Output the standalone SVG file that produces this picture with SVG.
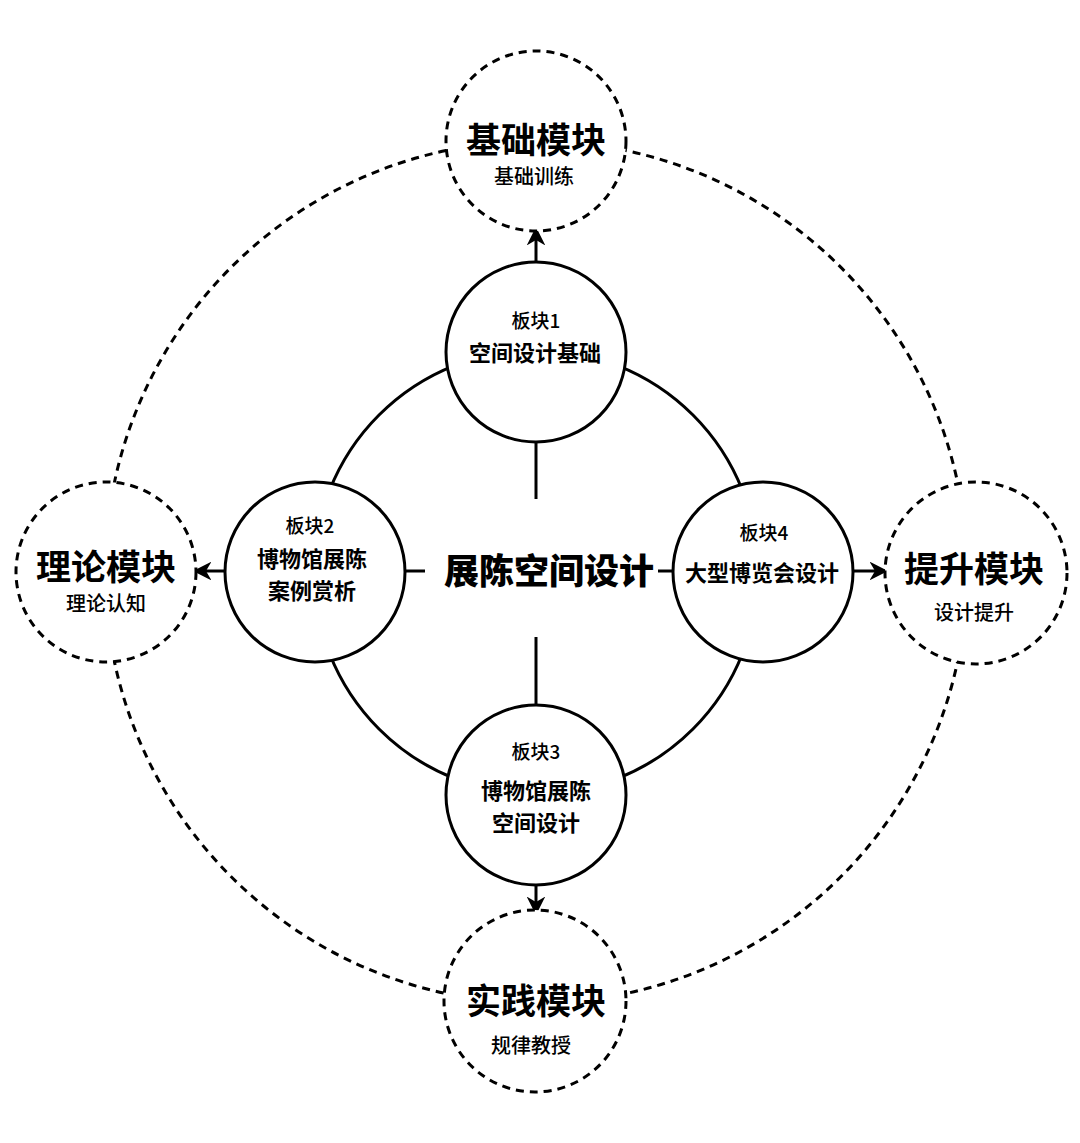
<svg xmlns="http://www.w3.org/2000/svg" width="1080" height="1143" viewBox="0 0 1080 1143">
<defs>
<style>
.bg{fill:#fff}
.dash{fill:#fff;stroke:#000;stroke-width:3;stroke-dasharray:8 6}
.ring{fill:none;stroke:#000;stroke-width:3;stroke-dasharray:8 6}
.solid{fill:#fff;stroke:#000;stroke-width:3}
.sring{fill:none;stroke:#000;stroke-width:3}
.ln{stroke:#000;stroke-width:3;fill:none}
.arr{stroke:#000;stroke-width:3;fill:none;marker-end:url(#ah)}
text{font-family:"Noto Sans CJK SC","Noto Sans",sans-serif;text-anchor:middle;fill:#000}
.big{font-size:35px;font-weight:700}
.sub{font-size:20px;font-weight:500}
.tag{font-size:19px;font-weight:500}
.name{font-size:22px;font-weight:700}
.center{font-size:35px;font-weight:900}
</style>
<marker id="ah" viewBox="0 0 12 12" refX="10" refY="6" markerWidth="6" markerHeight="6" orient="auto" markerUnits="strokeWidth">
<path d="M1,1 L11,6 L1,11 L4,6 z" fill="#000" stroke="#000" stroke-width="1" stroke-linejoin="miter"/>
</marker>
</defs>
<rect class="bg" x="0" y="0" width="1080" height="1143"/>
<g id="connectors">
<circle class="ring" cx="536" cy="572" r="431"/>
<circle class="sring" cx="536" cy="572" r="222"/>
<line class="ln" x1="536" y1="440" x2="536" y2="499"/>
<line class="ln" x1="536" y1="637" x2="536" y2="706"/>
<line class="ln" x1="403" y1="571" x2="425" y2="571"/>
<line class="ln" x1="658" y1="571" x2="675" y2="571"/>
<line class="arr" x1="536" y1="263" x2="536" y2="230"/>
<line class="arr" x1="226" y1="571" x2="196" y2="571"/>
<line class="arr" x1="851" y1="571" x2="885" y2="571"/>
<line class="arr" x1="536" y1="884" x2="536" y2="912"/>
</g>
<g id="module-basic">
<circle class="dash" cx="536" cy="141" r="90"/>
<text class="big" x="536" y="153">基础模块</text>
<text class="sub" x="534" y="184">基础训练</text>
</g>
<g id="module-theory">
<circle class="dash" cx="106" cy="572" r="90"/>
<text class="big" x="106" y="580">理论模块</text>
<text class="sub" x="106" y="611">理论认知</text>
</g>
<g id="module-advance">
<circle class="dash" cx="976" cy="573" r="91"/>
<text class="big" x="974" y="582">提升模块</text>
<text class="sub" x="974" y="620">设计提升</text>
</g>
<g id="module-practice">
<circle class="dash" cx="535" cy="1001" r="91"/>
<text class="big" x="536" y="1014">实践模块</text>
<text class="sub" x="531" y="1053">规律教授</text>
</g>
<g id="block1">
<circle class="solid" cx="536" cy="352" r="90"/>
<text class="tag" x="536" y="328">板块1</text>
<text class="name" x="535" y="361">空间设计基础</text>
</g>
<g id="block2">
<circle class="solid" cx="315" cy="572" r="90"/>
<text class="tag" x="310" y="533">板块2</text>
<text class="name" x="312" y="567">博物馆展陈</text>
<text class="name" x="312" y="599">案例赏析</text>
</g>
<g id="block4">
<circle class="solid" cx="763" cy="572" r="90"/>
<text class="tag" x="764" y="540">板块4</text>
<text class="name" x="762" y="581">大型博览会设计</text>
</g>
<g id="block3">
<circle class="solid" cx="536" cy="795" r="90"/>
<text class="tag" x="536" y="759">板块3</text>
<text class="name" x="536" y="799">博物馆展陈</text>
<text class="name" x="536" y="831">空间设计</text>
</g>
<g id="center">
<text class="center" x="549" y="584">展陈空间设计</text>
</g>
</svg>
